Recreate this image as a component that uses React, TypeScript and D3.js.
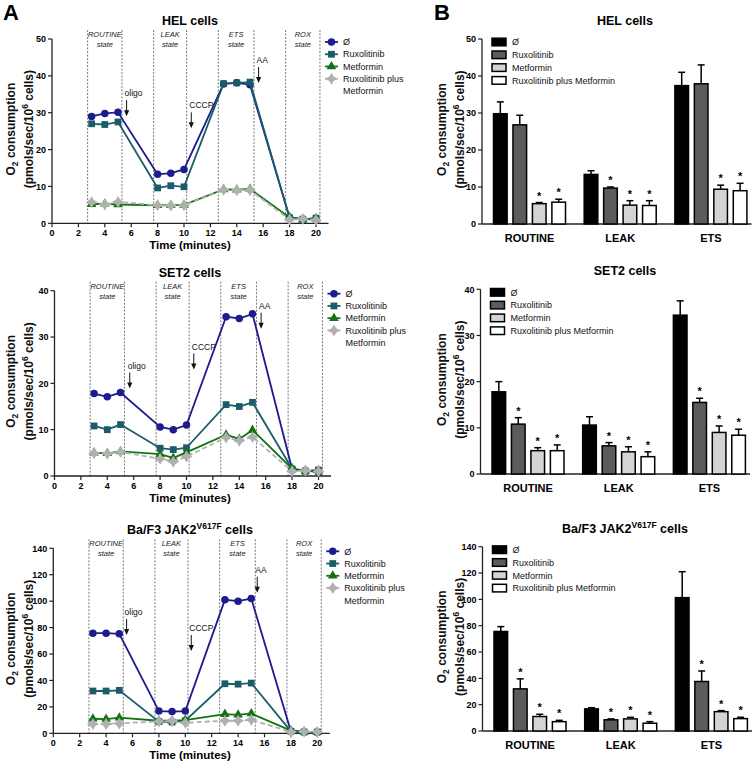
import React from 'react';
import * as d3 from 'd3';

const FONT = '"Liberation Sans", Arial, Helvetica, sans-serif';

// ---- shared ----
const times = [3, 4, 5, 8, 9, 10, 13, 14, 15, 18, 19, 20];
const seriesNames = ['Ø', 'Ruxolitinib', 'Metformin', 'Ruxolitinib plus Metformin'];
const lineColors = ['#1c1c8e', '#1b5c6a', '#147214', '#b0b0b0'];
const barFills = ['#000000', '#5c5c5c', '#d4d4d4', '#ffffff'];
const stateEdges = [2.7, 5.3, 7.7, 10.2, 12.6, 15.3, 17.7, 20.3];
const stateNames = ['ROUTINE', 'LEAK', 'ETS', 'ROX'];
const xTicks = [0, 2, 4, 6, 8, 10, 12, 14, 16, 18, 20];
const barCategories = ['ROUTINE', 'LEAK', 'ETS'];
const injections = ['oligo', 'CCCP', 'AA'];

// ---- HEL ----
const helNone = [29.0, 29.8, 30.1, 13.3, 13.6, 14.6, 37.8, 38.1, 37.6, 1.5, 1.2, 1.0];
const helRux = [27.0, 26.8, 27.5, 9.6, 10.2, 9.9, 37.9, 38.1, 38.3, 1.5, 1.1, 1.4];
const helMet = [5.2, 5.3, 5.1, 4.9, 4.9, 5.0, 9.2, 9.1, 9.3, 1.6, 1.0, 1.3];
const helRuxMet = [5.7, 5.1, 5.8, 4.9, 4.8, 4.9, 9.1, 9.0, 9.0, 1.0, 1.2, 0.9];
const helYTicks = [0, 10, 20, 30, 40, 50];
const helArrowX = [5.5, 10.4, 15.5];
const helArrowY = [34.5, 31.2, 43.5];
const helBarMean = [[29.8, 26.8, 5.5, 5.9], [13.4, 9.7, 5.1, 5.0], [37.4, 37.9, 9.4, 9.0]];
const helBarErr = [[3.2, 2.6, 0.3, 0.8], [1.0, 0.3, 1.2, 1.3], [3.6, 5.1, 1.1, 2.0]];
const helBarStar = [[0, 0, 1, 1], [0, 1, 1, 1], [0, 0, 1, 1]];

// ---- SET2 ----
const setNone = [17.8, 17.1, 18.0, 10.6, 10.0, 11.0, 34.4, 34.0, 35.0, 1.5, 1.2, 0.8];
const setRux = [10.8, 10.0, 11.1, 6.0, 5.7, 6.1, 15.4, 15.0, 15.9, 1.5, 1.0, 1.3];
const setMet = [5.0, 4.9, 5.3, 4.7, 3.9, 5.1, 8.9, 8.0, 9.9, 1.6, 1.1, 1.2];
const setRuxMet = [4.9, 4.8, 5.2, 3.7, 3.1, 4.2, 8.3, 7.6, 8.4, 1.0, 1.2, 1.0];
const setYTicks = [0, 10, 20, 30, 40];
const setArrowX = [5.55, 10.4, 15.5];
const setArrowY = [23.2, 27.3, 36.1];
const setBarMean = [[17.8, 10.8, 5.05, 5.05], [10.6, 6.1, 4.8, 3.75], [34.4, 15.5, 9.0, 8.4]];
const setBarErr = [[2.2, 1.4, 0.65, 1.25], [1.8, 0.7, 1.1, 1.05], [3.1, 0.9, 1.4, 1.3]];
const setBarStar = [[0, 1, 1, 1], [0, 1, 1, 1], [0, 1, 1, 1]];

// ---- Ba/F3 JAK2 V617F ----
const bafNone = [75.8, 75.8, 75.3, 16.8, 16.5, 16.8, 101.0, 100.0, 102.0, 1.5, 1.0, 0.8];
const bafRux = [32.0, 32.0, 32.5, 8.8, 8.5, 9.5, 37.5, 37.2, 38.0, 1.5, 1.0, 1.0];
const bafMet = [11.0, 10.8, 11.8, 9.5, 9.5, 10.0, 14.5, 14.0, 15.0, 2.0, 1.2, 1.0];
const bafRuxMet = [7.0, 7.0, 7.5, 9.0, 9.3, 8.0, 9.5, 9.5, 10.2, 1.0, 1.2, 1.0];
const bafYTicks = [0, 20, 40, 60, 80, 100, 120, 140];
const bafArrowX = [5.4, 10.3, 15.3];
const bafArrowY = [89.5, 77.4, 121.5];
const bafBarMean = [[75.6, 32.0, 11.0, 7.1], [16.8, 8.5, 9.2, 5.9], [101.3, 37.6, 14.7, 9.4]];
const bafBarErr = [[3.7, 7.6, 1.7, 1.0], [0.9, 0.7, 1.2, 1.2], [19.7, 8.0, 0.8, 1.0]];
const bafBarStar = [[0, 1, 1, 1], [0, 1, 1, 1], [0, 1, 1, 1]];

// 4-point star marker for the combination series
const star4 = {
  draw(ctx: any, size: number) {
    const r = Math.sqrt(size) * 0.75;
    const w = r * 0.38;
    ctx.moveTo(0, -r);
    ctx.lineTo(w, -w);
    ctx.lineTo(r, 0);
    ctx.lineTo(w, w);
    ctx.lineTo(0, r);
    ctx.lineTo(-w, w);
    ctx.lineTo(-r, 0);
    ctx.lineTo(-w, -w);
    ctx.closePath();
  },
};
const symbolTypes: any[] = [d3.symbolCircle, d3.symbolSquare, d3.symbolTriangle, star4];
const symbolSizes = [44, 46, 40, 64];

// two-line rotated y title; cx = baseline of the first line
function YLabel({ cx, cy }: { cx: number; cy: number }) {
  return (
    <g transform={`translate(${cx},${cy}) rotate(-90)`} fontFamily={FONT} fontWeight="bold" fontSize={12} textAnchor="middle" fill="#111">
      <text x={0} y={0}>
        O<tspan fontSize={8.5} dy={3}>2</tspan>
        <tspan dy={-3}> consumption</tspan>
      </text>
      <text x={0} y={18}>
        (pmols/sec/10<tspan fontSize={8.5} dy={-5}>6</tspan>
        <tspan dy={5}> cells)</tspan>
      </text>
    </g>
  );
}

type LineProps = {
  title: React.ReactNode;
  left: number;
  top: number;
  bottom: number;
  yTicks: number[];
  series: number[][];
  arrowX: number[];
  arrowY: number[];
};

function LinePanel({ title, left, top, bottom, yTicks, series, arrowX, arrowY }: LineProps) {
  const x = d3.scaleLinear().domain([0, 20]).range([left, left + 264]);
  const y = d3.scaleLinear().domain([0, yTicks[yTicks.length - 1]]).range([bottom, top]);
  const line = d3.line<number>().x((_, i) => x(times[i])).y((d) => y(d));
  const axisColor = '#222';
  const legendX = x(20.3) + 5;
  return (
    <g fontFamily={FONT}>
      <text x={190} y={top - 14} textAnchor="middle" fontWeight="bold" fontSize={12.5}>{title}</text>
      {/* state boundaries */}
      {stateEdges.map((s, i) => (
        <line key={i} x1={x(s)} x2={x(s)} y1={top - 9} y2={bottom} stroke="#555" strokeWidth={0.8} strokeDasharray="2,1.5" />
      ))}
      {stateNames.map((s, i) => {
        const cx = (x(stateEdges[i * 2]) + x(stateEdges[i * 2 + 1])) / 2;
        return (
          <text key={s} x={cx} textAnchor="middle" fontStyle="italic" fontSize={7.5} fill="#222">
            <tspan x={cx} y={top - 2}>{s}</tspan>
            <tspan x={cx} y={top + 8}>state</tspan>
          </text>
        );
      })}
      {/* axes */}
      <line x1={left} x2={left} y1={top} y2={bottom} stroke={axisColor} strokeWidth={1.3} />
      <line x1={left} x2={x(20.95)} y1={bottom} y2={bottom} stroke={axisColor} strokeWidth={1.3} />
      {yTicks.map((t) => (
        <g key={t}>
          <line x1={left - 4} x2={left} y1={y(t)} y2={y(t)} stroke={axisColor} strokeWidth={1.2} />
          <text x={left - 6} y={y(t) + 3.2} textAnchor="end" fontSize={9} fontWeight="bold">{t}</text>
        </g>
      ))}
      {xTicks.map((t) => (
        <g key={t}>
          <line x1={x(t)} x2={x(t)} y1={bottom} y2={bottom + 4} stroke={axisColor} strokeWidth={1.2} />
          <text x={x(t)} y={bottom + 13} textAnchor="middle" fontSize={9} fontWeight="bold">{t}</text>
        </g>
      ))}
      <text x={190} y={bottom + 26} textAnchor="middle" fontSize={11.5} fontWeight="bold">Time (minutes)</text>
      <YLabel cx={15} cy={(top + bottom) / 2 - 2} />
      {/* series */}
      {series.map((vals, si) => (
        <g key={si}>
          <path d={line(vals) || ''} fill="none" stroke={lineColors[si]} strokeWidth={1.8} strokeDasharray={si === 3 ? '5,3' : undefined} />
          {vals.map((v, i) => (
            <path key={i} transform={`translate(${x(times[i])},${y(v)})`} d={d3.symbol().type(symbolTypes[si]).size(symbolSizes[si])() || ''} fill={lineColors[si]} />
          ))}
        </g>
      ))}
      {/* injection arrows */}
      {injections.map((name, i) => {
        const tx = x(arrowX[i]);
        const ty = y(arrowY[i]);
        return (
          <g key={name}>
            <text x={tx} y={ty} fontSize={8.5} fill="#111">{name}</text>
            <line x1={tx + 2} x2={tx + 2} y1={ty + 4} y2={ty + 18} stroke="#111" strokeWidth={1} />
            <path d={`M${tx + 2 - 2.6},${ty + 14} L${tx + 2 + 2.6},${ty + 14} L${tx + 2},${ty + 20} Z`} fill="#111" />
          </g>
        );
      })}
      {/* legend */}
      {['Ø', 'Ruxolitinib', 'Metformin', 'Ruxolitinib plus'].map((name, i) => {
        const ly = top + 3 + i * 12.25;
        return (
          <g key={i}>
            <line x1={legendX} x2={legendX + 13} y1={ly} y2={ly} stroke={lineColors[i]} strokeWidth={1.8} />
            <path transform={`translate(${legendX + 6.5},${ly})`} d={d3.symbol().type(symbolTypes[i]).size(symbolSizes[i])() || ''} fill={lineColors[i]} />
            <text x={legendX + 18} y={ly + 3.2} fontSize={9} fill="#111">{name}</text>
          </g>
        );
      })}
      <text x={legendX + 18} y={top + 3 + 4 * 12.25 + 3.2} fontSize={9} fill="#111">Metformin</text>
    </g>
  );
}

type BarProps = {
  title: React.ReactNode;
  axisX: number;
  top: number;
  bottom: number;
  yTicks: number[];
  means: number[][];
  errs: number[][];
  stars: number[][];
};

function BarPanel({ title, axisX, top, bottom, yTicks, means, errs, stars }: BarProps) {
  const y = d3.scaleLinear().domain([0, yTicks[yTicks.length - 1]]).range([bottom, top]);
  const start = axisX + 11.5;
  const x0 = d3.scaleBand<string>().domain(barCategories).range([start, start + 253.4]).paddingInner(0.206).paddingOuter(0);
  const x1 = d3.scaleBand<string>().domain(seriesNames).range([0, x0.bandwidth()]).paddingInner(0.3).paddingOuter(0);
  const bw = x1.bandwidth();
  return (
    <g fontFamily={FONT}>
      <text x={625} y={top - 14} textAnchor="middle" fontWeight="bold" fontSize={12.5}>{title}</text>
      <line x1={axisX} x2={axisX} y1={top} y2={bottom} stroke="#222" strokeWidth={1.3} />
      <line x1={axisX} x2={start + 258} y1={bottom} y2={bottom} stroke="#222" strokeWidth={1.3} />
      {yTicks.map((t) => (
        <g key={t}>
          <line x1={axisX - 4} x2={axisX} y1={y(t)} y2={y(t)} stroke="#222" strokeWidth={1.2} />
          <text x={axisX - 6} y={y(t) + 3.2} textAnchor="end" fontSize={9} fontWeight="bold">{t}</text>
        </g>
      ))}
      {barCategories.map((c, ci) => (
        <g key={c}>
          {means[ci].map((m, si) => {
            const bx = (x0(c) || 0) + (x1(seriesNames[si]) || 0);
            const cx = bx + bw / 2;
            const et = y(m + errs[ci][si]);
            return (
              <g key={si}>
                <line x1={cx} x2={cx} y1={y(m)} y2={et} stroke="#000" strokeWidth={1.5} />
                <line x1={cx - 3.5} x2={cx + 3.5} y1={et} y2={et} stroke="#000" strokeWidth={1.5} />
                <rect x={bx} y={y(m)} width={bw} height={bottom - y(m)} fill={barFills[si]} stroke="#000" strokeWidth={1.5} />
                {stars[ci][si] ? (
                  <text x={cx} y={et - 3} textAnchor="middle" fontSize={11} fontWeight="bold">*</text>
                ) : null}
              </g>
            );
          })}
          <text x={(x0(c) || 0) + x0.bandwidth() / 2} y={bottom + 18} textAnchor="middle" fontSize={11} fontWeight="bold">{c}</text>
        </g>
      ))}
      <YLabel cx={446} cy={(top + bottom) / 2 - 2} />
      {seriesNames.map((name, i) => {
        const ly = top + 3 + i * 12.8;
        return (
          <g key={name}>
            <rect x={axisX + 10} y={ly - 3.8} width={14} height={7.6} fill={barFills[i]} stroke="#000" strokeWidth={1.5} />
            <text x={axisX + 30} y={ly + 3.2} fontSize={9} fill="#111">{name}</text>
          </g>
        );
      })}
    </g>
  );
}

const bafTitle = (
  <>
    Ba/F3 JAK2<tspan fontSize={8.5} dy={-5}>V617F</tspan>
    <tspan dy={5}> cells</tspan>
  </>
);

export default function App() {
  return (
    <svg width={756} height={762} viewBox="0 0 756 762" style={{ position: 'absolute', left: 0, top: 0, background: '#fff' }}>
      <rect width={756} height={762} fill="#fff" />
      <text x={3} y={20} fontFamily={FONT} fontWeight="bold" fontSize={22}>A</text>
      <text x={434} y={20} fontFamily={FONT} fontWeight="bold" fontSize={22}>B</text>
      <LinePanel title="HEL cells" left={52} top={39} bottom={223.3} yTicks={helYTicks}
        series={[helNone, helRux, helMet, helRuxMet]} arrowX={helArrowX} arrowY={helArrowY} />
      <LinePanel title="SET2 cells" left={54.5} top={290.7} bottom={476} yTicks={setYTicks}
        series={[setNone, setRux, setMet, setRuxMet]} arrowX={setArrowX} arrowY={setArrowY} />
      <LinePanel title={bafTitle} left={53.3} top={548.3} bottom={733.3} yTicks={bafYTicks}
        series={[bafNone, bafRux, bafMet, bafRuxMet]} arrowX={bafArrowX} arrowY={bafArrowY} />
      <BarPanel title="HEL cells" axisX={482} top={39} bottom={224} yTicks={helYTicks}
        means={helBarMean} errs={helBarErr} stars={helBarStar} />
      <BarPanel title="SET2 cells" axisX={480.5} top={289.3} bottom={474} yTicks={setYTicks}
        means={setBarMean} errs={setBarErr} stars={setBarStar} />
      <BarPanel title={bafTitle} axisX={482.5} top={546.7} bottom={731} yTicks={bafYTicks}
        means={bafBarMean} errs={bafBarErr} stars={bafBarStar} />
    </svg>
  );
}
